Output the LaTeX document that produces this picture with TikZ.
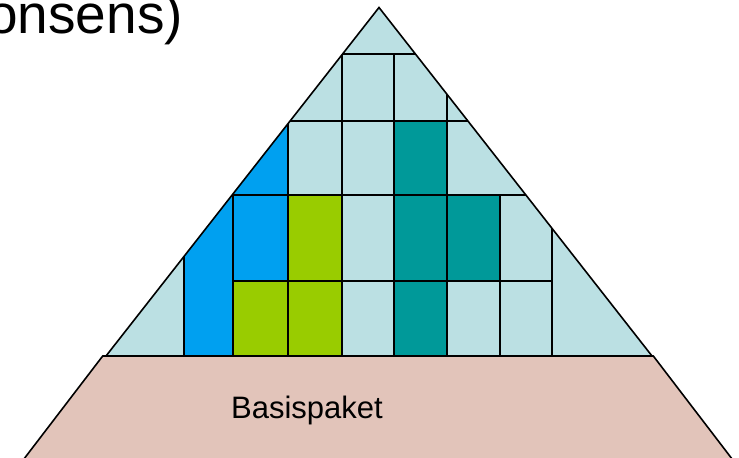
\documentclass[tikz,border=0pt]{standalone}
\usepackage{fontspec}
\setmainfont{Liberation Sans}
\usepackage{tikz}

\definecolor{paleteal}{RGB}{187,224,227}
\definecolor{skyblue}{RGB}{0,160,240}
\definecolor{limegreen}{RGB}{153,204,0}
\definecolor{darkteal}{RGB}{0,153,153}
\definecolor{basepink}{RGB}{226,196,186}

\begin{document}
\begin{tikzpicture}[
    x=0.75pt, y=-0.75pt,
    outline/.style={draw=black, line width=1.2pt, line join=miter},
    gridline/.style={draw=black, line width=1.5pt},
    bluecell/.style={fill=skyblue},
    greencell/.style={fill=limegreen},
    tealcell/.style={fill=darkteal},
    lbl/.style={inner sep=0pt, text=black}
  ]
  \useasboundingbox (0,0) rectangle (739,457);
  \clip (0,0) rectangle (739,457);

  \coordinate (apex) at (379,7.5);
  \coordinate (pl) at (106,356);
  \coordinate (pr) at (652,356);
  \coordinate (tl) at (102.7,356);
  \coordinate (tr) at (653.3,356);
  \coordinate (bl) at (15.5,470);
  \coordinate (br) at (740.5,470);

  % pyramid cells
  \begin{scope}
    \clip (apex) -- (pl) -- (pr) -- cycle;
    \fill[paleteal] (apex) -- (pl) -- (pr) -- cycle;
    \fill[bluecell] (184,100) rectangle (233,356);
    \fill[bluecell] (233,100) rectangle (288,281);
    \fill[greencell] (233,281) rectangle (342,356);
    \fill[greencell] (288,195) rectangle (342,281);
    \fill[tealcell] (394,121) rectangle (447,356);
    \fill[tealcell] (447,195) rectangle (500,281);
    % grid
    \draw[gridline] (184,200) -- (184,356);
    \draw[gridline] (233,150) -- (233,356);
    \draw[gridline] (288,100) -- (288,356);
    \draw[gridline] (342,54) -- (342,356);
    \draw[gridline] (394,54) -- (394,356);
    \draw[gridline] (447,80) -- (447,356);
    \draw[gridline] (500,195) -- (500,356);
    \draw[gridline] (552,200) -- (552,356);
    \draw[gridline] (330,54) -- (430,54);
    \draw[gridline] (280,121) -- (480,121);
    \draw[gridline] (233,195) -- (540,195);
    \draw[gridline] (233,281) -- (552,281);
  \end{scope}
  \draw[outline] (apex) -- (pl) -- (pr) -- cycle;

  % base
  \filldraw[outline, fill=basepink] (bl) -- (tl) -- (tr) -- (br);

  \node[lbl, anchor=base, font=\fontsize{23.25}{28}\selectfont] (basis) at (307,418) {Basispaket};
  \node[lbl, anchor=base west, font=\fontsize{41.25}{48}\selectfont] (title) at (-13,33) {onsens)};
\end{tikzpicture}
\end{document}
